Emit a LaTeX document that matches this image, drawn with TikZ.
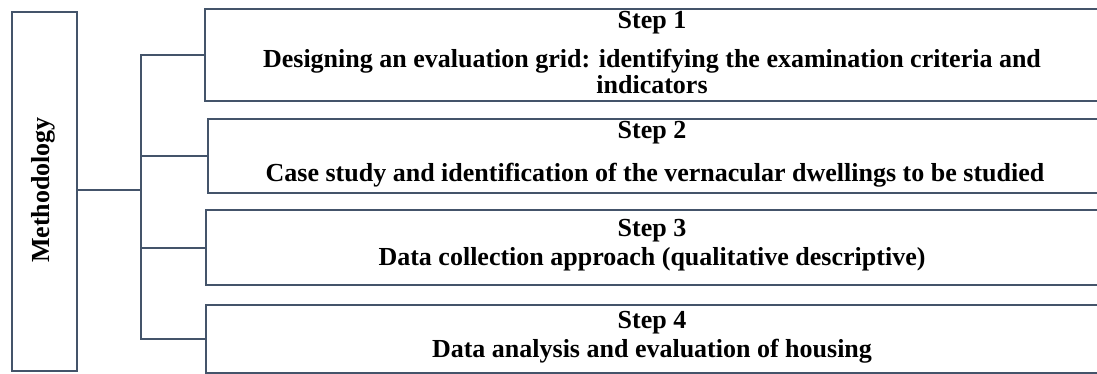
\documentclass[tikz,border=0pt]{standalone}
\usepackage{fontspec}
\setmainfont{Liberation Serif}
\definecolor{slate}{HTML}{44546A}
\begin{document}
\begin{tikzpicture}[x=1pt,y=1pt,
  box/.style={draw=slate, line width=2pt, anchor=north west, inner sep=0pt},
  txt/.style={font=\fontsize{26}{29}\selectfont\bfseries, inner sep=0pt, anchor=base},
  link/.style={draw=slate, line width=2pt}]
\useasboundingbox (0,0) rectangle (1097,-374);
\clip (0,0) rectangle (1097,-374);
\node[box, minimum width=65, minimum height=359] (m) at (11,-11) {};
\node[rotate=90, txt, anchor=center] (mt) at (43.5,-190) {Methodology};
\node[box, minimum width=900, minimum height=92] (b1) at (204,-8) {};
\node[box, minimum width=900, minimum height=74] (b2) at (207,-118) {};
\node[box, minimum width=900, minimum height=75] (b3) at (205,-209) {};
\node[box, minimum width=900, minimum height=68] (b4) at (205,-304) {};
\node[txt] (t1) at (652,-29) {Step 1};
\node[txt] (d1) at (652,-68) {Designing an evaluation grid: identifying the examination criteria and};
\node[txt] (e1) at (652,-94) {indicators};
\node[txt] (t2) at (652,-139) {Step 2};
\node[txt] (d2) at (655,-182) {Case study and identification of the vernacular dwellings to be studied};
\node[txt] (t3) at (652,-236) {Step 3};
\node[txt] (d3) at (652,-265) {Data collection approach (qualitative descriptive)};
\node[txt] (t4) at (652,-328) {Step 4};
\node[txt] (d4) at (652,-357) {Data analysis and evaluation of housing};
\coordinate (j) at (141,-190);
\draw[link] (m.east |- j) -- (j);
\draw[link] (b1.west) -- (b1.west -| j) -- (b4.west -| j) -- (b4.west);
\draw[link] (b2.west) -- (b2.west -| j);
\draw[link] (b3.west) -- (b3.west -| j);
\end{tikzpicture}
\end{document}
